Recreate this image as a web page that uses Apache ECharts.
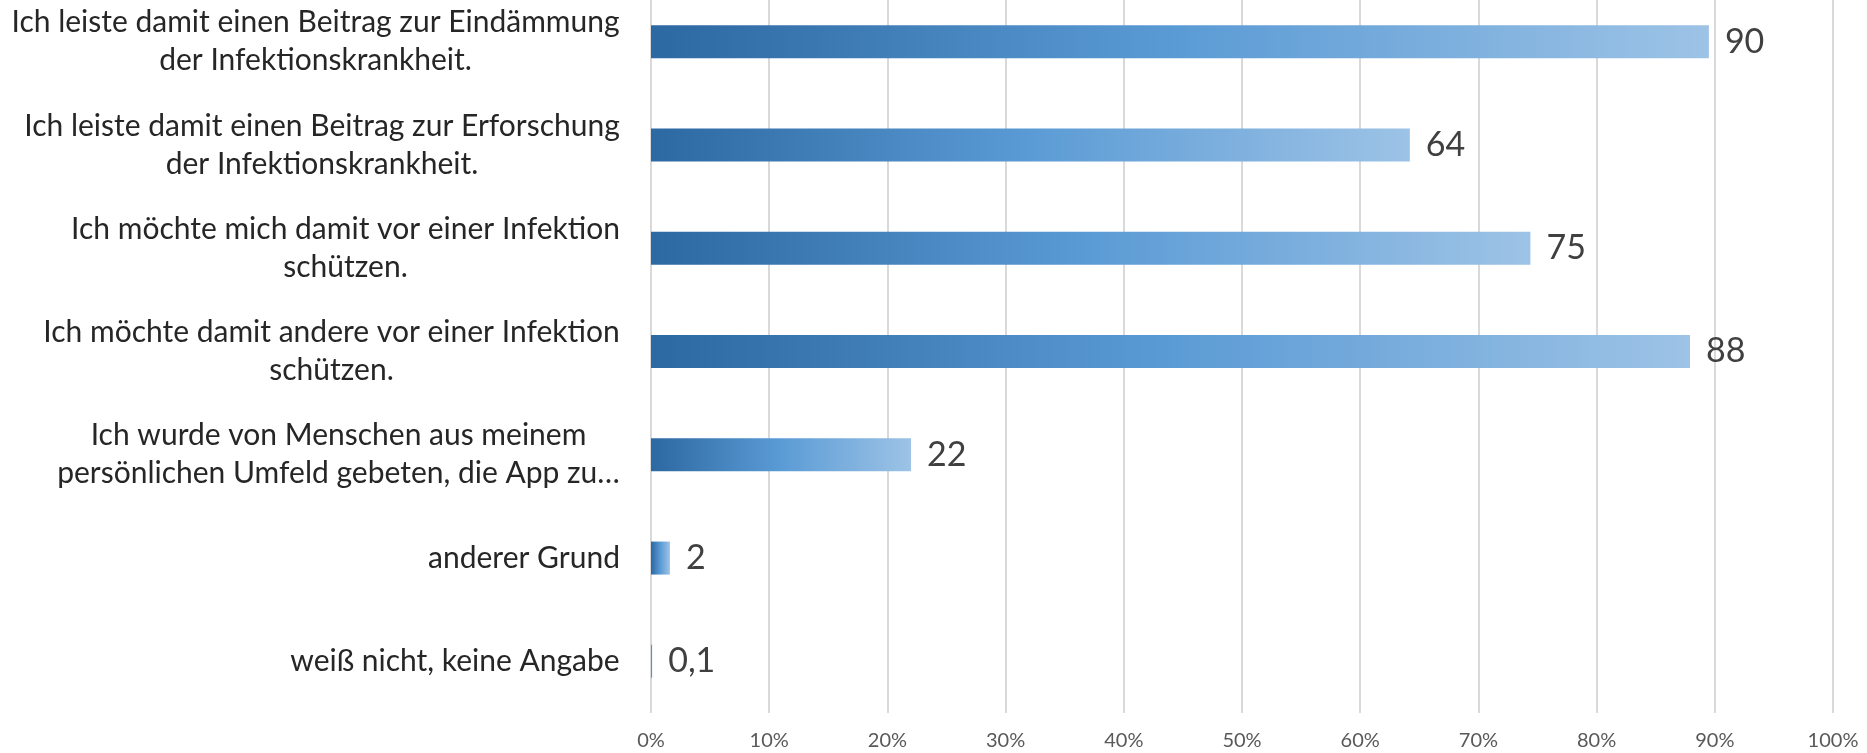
<!DOCTYPE html>
<html><head><meta charset="utf-8">
<script src="https://cdn.jsdelivr.net/npm/echarts/dist/echarts.min.js"></script>
<style>html,body{margin:0;padding:0;background:#fff;overflow:hidden}#c{position:absolute;left:0;top:-10px;width:1867px;height:763px}</style>
</head><body><div id="c"></div>
<script>
const categories = [
  "Ich leiste damit einen Beitrag zur Eindämmung\nder Infektionskrankheit.",
  "Ich leiste damit einen Beitrag zur Erforschung\nder Infektionskrankheit.",
  "Ich möchte mich damit vor einer Infektion\nschützen.",
  "Ich möchte damit andere vor einer Infektion\nschützen.",
  "Ich wurde von Menschen aus meinem\npersönlichen Umfeld gebeten, die App zu…",
  "anderer Grund",
  "weiß nicht, keine Angabe"
];
const values = [89.5, 64.2, 74.4, 87.9, 22.0, 1.6, 0.1];
const valueLabels = ["90", "64", "75", "88", "22", "2", "0,1"];
const tickSuffix = "%";

const FONT = 'Lato';
const CAT_SIZE = 30;
const ctx = document.createElement('canvas').getContext('2d');
ctx.font = CAT_SIZE + 'px ' + FONT;
const rich = {};
categories.forEach((c, i) => {
  const w = Math.max(...c.split('\n').map(l => ctx.measureText(l).width));
  rich['l' + i] = { width: Math.ceil(w), align: 'center', fontFamily: FONT, fontSize: CAT_SIZE, lineHeight: 38, color: '#262626' };
});

const chart = echarts.init(document.getElementById('c'), null, { renderer: 'canvas' });
chart.setOption({
  animation: false,
  backgroundColor: '#ffffff',
  grid: { left: 651, right: 34, top: 0, bottom: 40, containLabel: false },
  xAxis: {
    type: 'value', min: 0, max: 100, interval: 10,
    axisLine: { show: false }, axisTick: { show: false },
    splitLine: { show: true, lineStyle: { color: '#D9D9D9', width: 2 } },
    axisLabel: { formatter: '{value}' + tickSuffix, color: '#595959', fontFamily: FONT, fontSize: 20, margin: 18 }
  },
  yAxis: {
    type: 'category', inverse: true, data: categories,
    axisLine: { show: false }, axisTick: { show: false }, splitLine: { show: false },
    axisLabel: {
      align: 'right', margin: 31, fontFamily: FONT, fontSize: CAT_SIZE, color: '#262626', lineHeight: 38,
      formatter: (v, i) => v.split('\n').map(l => '{l' + i + '|' + l + '}').join('\n'),
      rich: rich
    }
  },
  series: [{
    type: 'bar', data: values, barWidth: 33,
    itemStyle: {
      color: new echarts.graphic.LinearGradient(0, 0, 1, 0, [
        { offset: 0, color: '#2C68A2' },
        { offset: 0.5, color: '#5B9BD5' },
        { offset: 1, color: '#9DC3E6' }
      ])
    },
    label: {
      show: true, position: 'right', distance: 16,
      fontFamily: FONT, fontSize: 34, color: '#404040',
      formatter: p => valueLabels[p.dataIndex]
    }
  }]
});
</script>
</body></html>
